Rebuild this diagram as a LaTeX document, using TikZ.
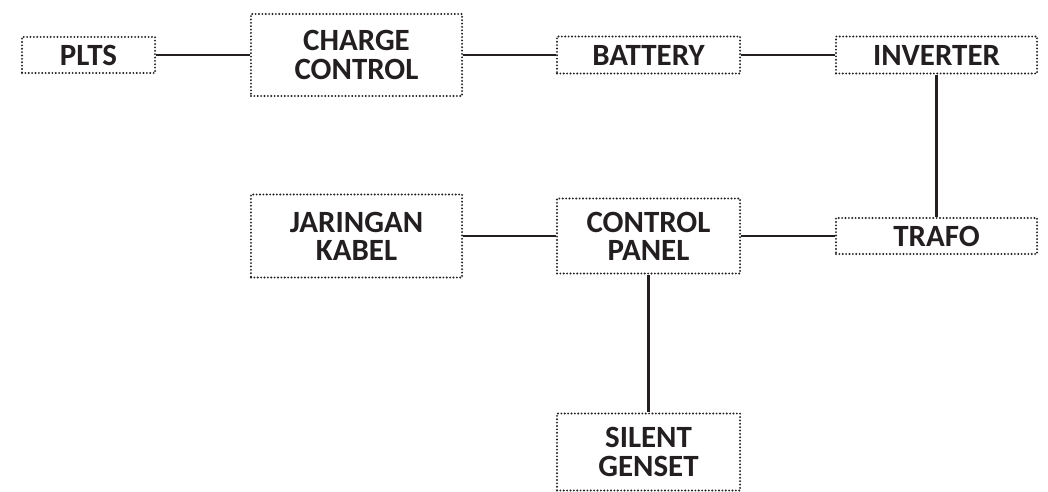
\documentclass[tikz,border=0pt]{standalone}
\usepackage{fontspec}
\setmainfont{Carlito}
\usetikzlibrary{positioning}
\definecolor{ink}{HTML}{231F20}

\begin{document}
\begin{tikzpicture}[x=0.025cm,y=-0.025cm,
    font=\fontsize{22}{20}\selectfont\bfseries,
    blk/.style={draw=ink,line width=1.5pt,dash pattern=on 0pt off 2.4pt,
                line cap=round,align=center,inner sep=0pt,text=ink},
    wire/.style={draw=ink,line width=1.8pt}]
  \useasboundingbox (0,0) rectangle (1048,492);
  % top row
  \node[blk,minimum width=3.325cm,minimum height=0.9cm] (plts) at (88.5,55) {PLTS};
  \node[blk,minimum width=5.275cm,minimum height=2.05cm] (charge) at (356.5,55) {CHARGE\\CONTROL};
  \node[blk,minimum width=4.575cm,minimum height=0.925cm] (battery) at (648.5,55) {BATTERY};
  \node[blk,minimum width=5.025cm,minimum height=0.925cm] (inverter) at (936.5,55) {INVERTER};
  % middle row
  \node[blk,minimum width=5.275cm,minimum height=2.075cm] (jaringan) at (356.5,236) {JARINGAN\\KABEL};
  \node[blk,minimum width=4.575cm,minimum height=1.875cm] (panel) at (648.5,236) {CONTROL\\PANEL};
  \node[blk,minimum width=5.025cm,minimum height=0.9cm] (trafo) at (936.5,236) {TRAFO};
  % bottom
  \node[blk,minimum width=4.575cm,minimum height=1.925cm] (genset) at (648.5,452) {SILENT\\GENSET};
  % connectors
  \draw[wire] (plts) -- (charge);
  \draw[wire] (charge) -- (battery);
  \draw[wire] (battery) -- (inverter);
  \draw[wire] (inverter) -- (trafo);
  \draw[wire] (trafo) -- (panel);
  \draw[wire] (panel) -- (jaringan);
  \draw[wire] (panel) -- (genset);
\end{tikzpicture}
\end{document}
